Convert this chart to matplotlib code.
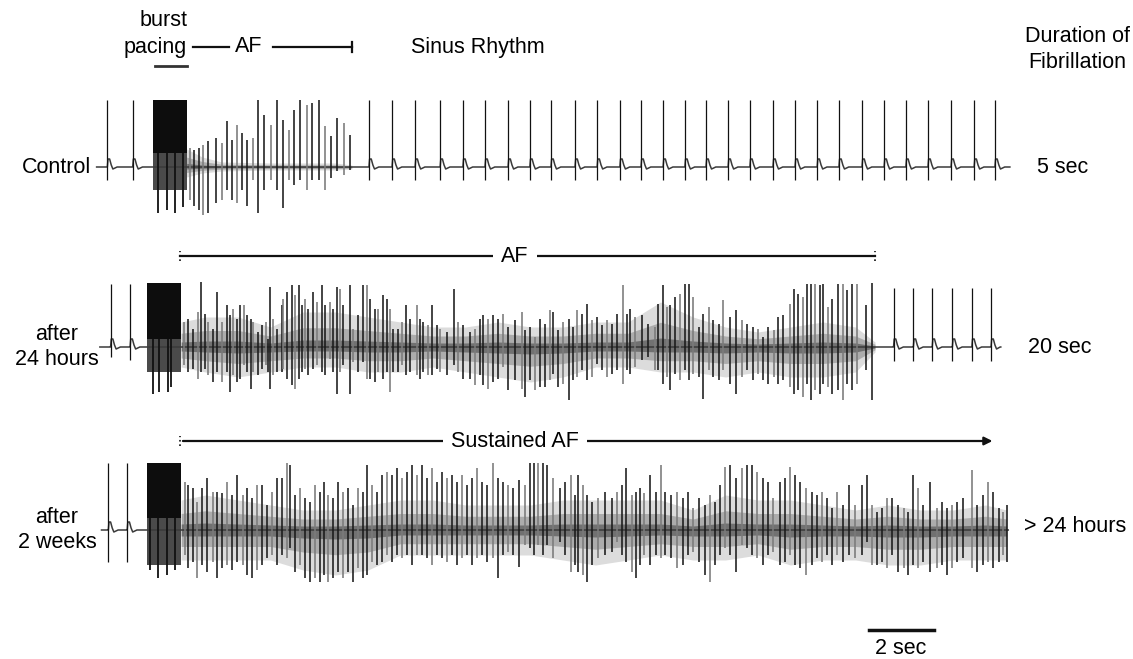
import numpy as np
import matplotlib.pyplot as plt

plt.rcParams['font.family'] = ['Liberation Sans', 'DejaVu Sans']

# time in s, deflections in trace units (up / down from the baseline)

# ---- Control ----
ctrl_span = (-0.35, 27.75)
ctrl_sinus_t = [-0.02, 0.76, 8.03, 8.74, 9.45, 10.22, 10.92, 11.60, 12.31, 12.98,
                13.63, 14.37, 15.05, 15.75, 16.40, 17.08, 17.75, 18.40, 19.08, 19.75,
                20.46, 21.14, 21.82, 22.49, 23.20, 23.88, 24.55, 25.23, 25.94, 26.65, 27.29]
ctrl_sinus_up = 6.7
ctrl_sinus_dn = 1.3
ctrl_burst = (1.40, 2.42, 6.7, 1.4, -2.3)   # start, end, top, black bottom, grey bottom
ctrl_burst_spk_t = [1.55, 1.81, 2.06, 2.30]
ctrl_burst_spk_dn = [4.6, 4.3, 4.6, 4.0]
ctrl_af_t = [2.52, 2.66, 2.80, 2.93, 3.09, 3.32, 3.50, 3.65, 3.82, 3.96,
             4.11, 4.27, 4.47, 4.63, 4.80, 5.01, 5.19, 5.39, 5.58, 5.73,
             5.92, 6.11, 6.29, 6.48, 6.68, 6.85, 7.06, 7.26, 7.45]
ctrl_af_up = [1.9, 1.7, 1.9, 2.2, 2.6, 2.9, 2.4, 4.6, 2.7, 4.2,
              3.4, 2.7, 2.9, 6.7, 5.2, 4.2, 6.7, 4.7, 3.7, 5.7,
              6.7, 6.2, 6.4, 6.7, 4.1, 3.1, 4.9, 4.4, 3.2]
ctrl_af_dn = [3.3, 3.9, 4.3, 4.8, 4.6, 3.6, 3.3, 2.3, 3.3, 3.6,
              2.3, 3.9, 1.3, 4.6, 2.3, 1.3, 2.3, 4.1, 1.3, 1.8,
              1.3, 2.3, 1.3, 1.3, 2.3, 1.1, 0.4, 0.8, 0.3]
ctrl_fz_t = [2.42, 2.9, 3.5, 5.0, 7.0, 7.5]
ctrl_fz_hi = [1.8, 1.0, 0.5, 0.4, 0.4, 0.2]
ctrl_fz_lo = [1.0, 0.6, 0.4, 0.3, 0.3, 0.2]

# ---- after 24 hours ----
h24_span = (-0.25, 27.45)
h24_sinus_t = [0.08, 0.68, 24.17, 24.78, 25.36, 25.98, 26.58, 27.17]
h24_sinus_up = [6.3, 6.3, 5.9, 5.9, 5.9, 5.9, 5.9, 5.9]
h24_sinus_dn = [1.0, 1.3, 1.4, 1.4, 1.4, 1.4, 1.4, 1.4]
h24_burst = (1.20, 2.25, 6.4, 0.8, -2.5)
h24_burst_spk_t = [1.39, 1.58, 1.86, 1.94]
h24_burst_spk_dn = [4.7, 4.5, 4.5, 4.0]
h24_af_t = [2.34, 2.47, 2.63, 2.78, 2.86, 2.98, 3.09, 3.24, 3.36, 3.50,
            3.65, 3.75, 3.84, 3.96, 4.06, 4.18, 4.27, 4.39, 4.47, 4.63,
            4.73, 4.85, 4.93, 4.98, 5.09, 5.19, 5.34, 5.39, 5.50, 5.65,
            5.75, 5.89, 5.96, 6.06, 6.16, 6.32, 6.44, 6.57, 6.68, 6.83,
            6.93, 7.04, 7.14, 7.24, 7.45, 7.55, 7.70, 7.86, 7.96, 8.06,
            8.22, 8.32, 8.47, 8.57, 8.68, 8.78, 8.93, 9.04, 9.17, 9.29,
            9.50, 9.60, 9.70, 9.86, 9.96, 10.11, 10.22, 10.42, 10.65, 10.78,
            10.93, 11.14, 11.29, 11.45, 11.55, 11.70, 11.86, 12.01,
            12.16, 12.32, 12.53, 12.73, 12.83, 12.98, 13.14, 13.29, 13.45, 13.60,
            13.70, 13.86, 14.01, 14.17, 14.32, 14.42, 14.58, 14.73, 14.88, 15.04,
            15.19, 15.35, 15.50, 15.66, 15.84, 15.97, 16.07, 16.22, 16.43, 16.63,
            16.83, 16.93, 17.09, 17.19, 17.29, 17.45, 17.60, 17.76, 17.89, 18.01,
            18.17, 18.32, 18.48, 18.63, 18.81, 18.93, 19.14, 19.32, 19.50, 19.65,
            19.86, 20.01, 20.16, 20.32, 20.48, 20.63, 20.78, 20.97, 21.11, 21.24,
            21.38, 21.50, 21.62, 21.75, 21.90, 22.01, 22.16, 22.29, 22.47, 22.60,
            22.74, 22.90, 23.06, 23.32, 23.52]
h24_af_up = [2.5, 2.8, 1.8, 3.5, 6.5, 3.3, 2.5, 1.8, 5.5, 2.5,
             4.2, 3.2, 3.8, 2.8, 4.2, 4.2, 3.2, 2.8, 2.5, 1.5,
             2.2, 2.5, 0.8, 6.0, 2.8, 1.8, 4.2, 4.8, 5.5, 6.2,
             5.2, 6.2, 4.2, 4.8, 3.8, 5.5, 4.5, 6.2, 4.2, 4.5,
             3.8, 6.0, 5.8, 4.2, 6.2, 1.8, 3.2, 6.2, 6.2, 4.8,
             3.8, 3.8, 5.2, 4.8, 3.8, 1.8, 1.8, 2.5, 4.2, 2.8,
             4.2, 2.8, 2.5, 2.2, 4.2, 2.2, 1.8, 1.5, 5.8, 2.5,
             2.2, 1.5, 1.8, 2.8, 3.2, 2.8, 3.2, 2.8,
             3.3, 2.0, 2.7, 3.5, 1.7, 2.0, 1.0, 2.8, 2.3, 3.7,
             3.5, 1.7, 2.5, 2.8, 2.0, 3.7, 3.3, 4.3, 2.7, 3.0,
             2.2, 2.7, 2.3, 3.3, 6.2, 3.3, 3.8, 3.0, 3.2, 2.3,
             2.0, 4.3, 6.2, 4.0, 4.2, 5.0, 5.3, 6.3, 6.3, 5.0,
             2.0, 3.3, 4.0, 2.7, 2.3, 4.7, 3.0, 3.7, 2.7, 2.3,
             2.0, 1.8, 1.0, 2.0, 1.7, 3.0, 3.2, 4.3, 5.8, 5.3,
             5.0, 6.3, 6.3, 6.3, 6.2, 6.3, 4.0, 4.8, 6.3, 6.3,
             5.7, 6.3, 6.3, 4.2, 6.4]
h24_af_dn = [1.8, 2.5, 2.2, 3.2, 2.5, 2.2, 2.8, 3.5, 2.5, 3.5,
             2.5, 4.5, 2.8, 3.5, 3.2, 1.8, 2.5, 4.2, 2.5, 2.8,
             2.2, 1.8, 2.5, 4.2, 2.8, 2.5, 2.5, 2.2, 3.2, 3.8,
             4.2, 3.2, 2.5, 2.2, 2.8, 2.2, 1.8, 2.5, 2.8, 1.2,
             2.5, 4.7, 2.5, 1.8, 4.7, 1.5, 2.5, 1.5, 3.2, 3.2,
             3.5, 2.5, 3.2, 2.5, 4.5, 2.5, 2.5, 1.8, 2.8, 2.5,
             2.8, 3.2, 2.5, 2.8, 2.8, 2.2, 2.5, 2.8, 1.8, 2.5,
             3.2, 3.2, 3.8, 2.8, 3.8, 4.2, 3.5, 3.2,
             2.0, 4.3, 3.3, 4.2, 5.0, 3.3, 4.3, 4.0, 4.0, 3.3,
             2.7, 4.0, 3.7, 5.3, 3.3, 3.0, 2.3, 3.3, 3.0, 1.7,
             2.3, 3.0, 2.7, 2.3, 3.7, 2.3, 2.7, 2.0, 1.3, 1.0,
             2.3, 2.3, 3.7, 3.0, 4.3, 2.7, 3.3, 2.3, 3.3, 2.7,
             3.0, 5.2, 2.3, 3.0, 3.3, 2.3, 3.7, 4.7, 3.0, 2.3,
             3.3, 2.7, 3.3, 3.7, 3.0, 3.7, 3.3, 4.0, 4.7, 4.3,
             5.0, 3.7, 5.3, 4.3, 4.7, 3.7, 4.0, 4.7, 4.3, 5.3,
             3.7, 4.3, 3.7, 2.3, 5.3]
h24_fz_t = [2.25, 3, 4, 5, 6, 7, 8, 9, 10, 11, 12, 13, 14, 15, 16, 17, 18, 19, 20, 21, 22, 23, 23.6]
h24_fz_hi = [2.5, 3.0, 3.0, 2.0, 3.5, 3.5, 3.0, 2.5, 2.0, 2.0, 2.5, 2.0, 2.0, 2.5, 2.5, 4.5, 3.0, 2.0, 1.5, 2.0, 2.5, 2.0, 0.5]
h24_fz_lo = [2.0, 2.5, 3.0, 2.5, 2.0, 2.0, 2.5, 2.5, 2.0, 2.5, 3.0, 3.5, 3.0, 2.0, 2.0, 2.5, 2.5, 3.0, 2.5, 3.0, 3.0, 2.5, 0.5]

# ---- after 2 weeks ----
w2_span = (-0.2, 27.7)
w2_sinus_t = [0.01, 0.59]
w2_sinus_up = 6.7
w2_sinus_dn = 3.2
w2_burst = (1.19, 2.25, 6.7, 1.2, -3.5)
w2_burst_spk_t = [1.29, 1.55, 1.81, 2.06]
w2_burst_spk_dn = [4.0, 4.8, 4.5, 4.0]
w2_af_t = [2.37, 2.47, 2.63, 2.75, 2.88, 3.06, 3.22, 3.34, 3.50, 3.67,
           3.81, 3.96, 4.14, 4.27, 4.42, 4.57, 4.75, 4.88, 5.04, 5.19,
           5.34, 5.50, 5.60, 5.75, 5.91, 6.06, 6.22, 6.37, 6.52, 6.65,
           6.78, 6.93, 7.09, 7.22, 7.39, 7.55, 7.70, 7.84, 7.96, 8.11,
           8.27, 8.42, 8.57, 8.73, 8.88, 9.04, 9.19, 9.34, 9.50, 9.65,
           9.81, 9.96, 10.11, 10.27, 10.42, 10.57, 10.73, 10.88, 11.04, 11.19,
           11.34, 11.50, 11.65, 11.86, 12.01, 12.16, 12.32, 12.47, 12.66, 12.83,
           12.98, 13.11, 13.24, 13.37, 13.52, 13.70,
           13.91, 14.06, 14.24, 14.37, 14.47, 14.63, 14.75, 14.88, 15.09, 15.29,
           15.50, 15.65, 15.81, 15.94, 16.11, 16.24, 16.37, 16.50, 16.68, 16.86,
           17.00, 17.14, 17.31, 17.50, 17.68, 17.86, 18.01, 18.19, 18.37, 18.52,
           18.68, 18.83, 18.99, 19.14, 19.32, 19.50, 19.65, 19.81, 19.96, 20.16,
           20.32, 20.47, 20.68, 20.83, 20.99, 21.14, 21.29, 21.48, 21.65, 21.81,
           21.96, 22.11, 22.27, 22.42, 22.60, 22.81, 22.98, 23.19, 23.34, 23.50,
           23.65, 23.81, 23.96, 24.12, 24.32, 24.48, 24.63, 24.78, 24.93, 25.09,
           25.29, 25.50, 25.65, 25.80, 25.96, 26.11, 26.32, 26.57, 26.73, 26.91,
           27.09, 27.24, 27.40, 27.53, 27.65]
w2_af_up = [4.8, 4.5, 4.2, 2.8, 4.2, 5.2, 3.8, 3.8, 3.7, 4.8,
            3.5, 5.5, 3.5, 4.2, 3.2, 4.5, 4.5, 2.5, 3.8, 5.2,
            5.2, 6.7, 6.5, 3.5, 4.2, 3.2, 2.8, 4.5, 3.8, 4.8,
            3.5, 3.2, 4.8, 3.8, 4.2, 2.5, 4.2, 3.8, 6.5, 4.5,
            3.8, 5.5, 5.8, 5.5, 6.2, 5.2, 5.8, 6.5, 5.5, 6.5,
            5.2, 6.2, 4.8, 5.8, 5.2, 5.5, 4.8, 5.5, 4.5, 5.2,
            6.2, 4.8, 4.5, 6.7, 5.2, 4.8, 4.5, 4.2, 5.0, 4.5,
            6.7, 6.7, 6.7, 6.7, 6.5, 5.2,
            4.2, 4.8, 5.5, 3.5, 5.5, 4.5, 3.5, 2.8, 3.2, 3.8,
            3.2, 3.8, 4.5, 6.2, 3.5, 3.8, 4.2, 3.7, 5.5, 3.8,
            6.5, 3.8, 3.5, 3.8, 3.2, 3.8, 2.2, 3.2, 2.5, 3.5,
            2.8, 4.5, 6.3, 6.5, 5.2, 6.2, 6.5, 6.5, 5.8, 5.2,
            4.8, 3.2, 4.8, 5.2, 6.3, 5.5, 4.8, 4.2, 3.8, 3.5,
            3.8, 3.2, 2.2, 3.8, 2.5, 4.5, 2.5, 4.5, 5.5, 2.5,
            1.8, 2.2, 3.2, 3.2, 2.5, 2.2, 1.8, 5.5, 4.2, 2.5,
            4.8, 2.2, 2.8, 2.2, 2.5, 2.8, 3.2, 6.0, 2.5, 3.5,
            4.8, 3.8, 2.2, 1.8, 2.5]
w2_af_dn = [2.5, 3.8, 3.2, 4.8, 3.5, 4.2, 3.2, 4.8, 3.8, 3.5,
            4.0, 3.2, 3.5, 4.5, 4.8, 4.0, 3.5, 2.8, 2.5, 3.5,
            2.5, 2.8, 1.8, 4.2, 3.5, 4.8, 5.2, 4.8, 5.2, 4.5,
            5.2, 4.8, 4.2, 4.8, 4.2, 5.2, 3.8, 4.8, 4.5, 3.2,
            3.5, 3.2, 2.5, 3.2, 2.5, 2.8, 2.5, 3.5, 2.5, 2.5,
            2.8, 3.5, 2.5, 2.8, 3.2, 2.5, 3.5, 2.8, 2.5, 3.5,
            2.8, 2.5, 3.2, 2.8, 4.8, 2.5, 2.2, 2.5, 3.7, 1.5,
            1.8, 2.5, 1.5, 2.5, 1.5, 2.8,
            1.2, 2.5, 4.2, 3.5, 4.2, 4.5, 5.2, 3.5, 2.8, 2.5,
            2.2, 1.2, 2.5, 3.2, 4.2, 4.8, 3.5, 2.5, 3.5, 2.5,
            2.8, 2.5, 2.8, 3.8, 3.5, 2.5, 2.2, 3.2, 4.5, 5.2,
            3.5, 2.5, 1.8, 2.5, 4.2, 1.5, 1.8, 2.5, 2.8, 3.5,
            2.5, 2.2, 3.5, 3.2, 2.5, 3.5, 3.8, 4.5, 3.5, 2.8,
            3.2, 2.5, 3.5, 2.5, 3.2, 2.5, 2.8, 2.5, 1.2, 3.5,
            3.5, 3.2, 3.8, 2.5, 4.2, 3.8, 4.5, 3.5, 3.8, 3.2,
            4.2, 3.8, 3.5, 4.5, 3.8, 3.2, 2.8, 3.8, 4.2, 3.5,
            3.2, 3.8, 3.2, 2.5, 3.2]
w2_fz_t = [2.25, 3, 4, 5, 6, 7, 8, 9, 10, 11, 12, 13, 14, 15, 16, 17, 18, 19, 20, 21, 22, 23, 24, 25, 26, 27, 27.65]
w2_fz_hi = [3.0, 3.5, 3.0, 2.5, 2.0, 2.0, 2.5, 3.0, 3.0, 2.5, 2.5, 2.5, 3.0, 3.0, 3.0, 3.0, 2.0, 3.5, 3.0, 3.0, 2.5, 2.0, 2.5, 2.0, 2.0, 2.5, 2.0]
w2_fz_lo = [3.0, 3.0, 3.0, 3.0, 4.0, 4.5, 4.0, 2.5, 2.5, 2.5, 2.5, 2.5, 3.0, 3.5, 3.0, 2.5, 3.0, 3.0, 2.5, 3.5, 3.0, 3.0, 3.5, 3.5, 3.0, 3.0, 3.0]

# shape of the ST/T segment after a sinus beat
beat_dt = [-0.03, 0.0, 0.02, 0.07, 0.12, 0.17, 0.30]
beat_v = [0.0, 0.0, 0.8, 0.8, 0.2, -0.2, 0.0]

row_offset = [0.0, -18.0, -36.3]
fs = 15.5

fig = plt.figure(figsize=(11.33, 6.59), dpi=100)
ax = fig.add_axes([0, 0, 1, 1])
ax.set_xlim(-3.323, 31.538)
ax.set_ylim(-49.2, 16.7)
ax.axis('off')


def draw_trace(off, span, sin_t, sin_up, sin_dn, burst, bsp_t, bsp_dn,
               af_t, af_up, af_dn, fz_t, fz_hi, fz_lo):
    pts = [(span[0], 0.0), (span[1], 0.0)]
    for b in sin_t:
        pts += [(b + d, v) for d, v in zip(beat_dt, beat_v)]
    pts.sort()
    bx, by = np.array(pts).T
    hi = np.array(fz_hi)
    lo = np.array(fz_lo)
    # blurred fibrillation band: light outer envelope, darker core
    ax.fill_between(fz_t, off + hi, off - lo, color='#8c8c8c', alpha=0.3, lw=0)
    ax.fill_between(fz_t, off + 0.55 * hi, off - 0.55 * lo, color='#555555', alpha=0.35, lw=0)
    ax.fill_between(fz_t, off + 0.2 * hi, off - 0.2 * lo, color='#2a2a2a', alpha=0.45, lw=0)
    ax.plot(bx, by + off, color='#3a3a3a', lw=1.1)
    ax.vlines(sin_t, off - np.asarray(sin_dn), off + np.asarray(sin_up),
              color='#111111', lw=0.9)
    cols = ['#7a7a7a' if i % 3 == 0 else '#1a1a1a' for i in range(len(af_t))]
    ax.vlines(af_t, off - np.array(af_dn), off + np.array(af_up), colors=cols, lw=1.15)
    b0, b1, top, black_bot, grey_bot = burst
    ax.fill_between([b0, b1], off + grey_bot, off + black_bot, color='#4a4a4a', lw=0)
    ax.fill_between([b0, b1], off + black_bot, off + top, color='#0d0d0d', lw=0)
    ax.vlines(bsp_t, off - np.array(bsp_dn), off + black_bot, color='#111111', lw=1.3)


draw_trace(row_offset[0], ctrl_span, ctrl_sinus_t, ctrl_sinus_up, ctrl_sinus_dn, ctrl_burst,
           ctrl_burst_spk_t, ctrl_burst_spk_dn, ctrl_af_t, ctrl_af_up, ctrl_af_dn,
           ctrl_fz_t, ctrl_fz_hi, ctrl_fz_lo)
draw_trace(row_offset[1], h24_span, h24_sinus_t, h24_sinus_up, h24_sinus_dn, h24_burst,
           h24_burst_spk_t, h24_burst_spk_dn, h24_af_t, h24_af_up, h24_af_dn,
           h24_fz_t, h24_fz_hi, h24_fz_lo)
draw_trace(row_offset[2], w2_span, w2_sinus_t, w2_sinus_up, w2_sinus_dn, w2_burst,
           w2_burst_spk_t, w2_burst_spk_dn, w2_af_t, w2_af_up, w2_af_dn,
           w2_fz_t, w2_fz_hi, w2_fz_lo)

# row labels and durations
ax.text(-0.52, 0.0, 'Control', ha='right', va='center', fontsize=fs)
ax.text(-1.57, -18.0, 'after\n24 hours', ha='center', va='center', fontsize=fs, linespacing=1.3)
ax.text(-1.57, -36.3, 'after\n2 weeks', ha='center', va='center', fontsize=fs, linespacing=1.3)
ax.text(29.38, 0.0, '5 sec', ha='center', va='center', fontsize=fs)
ax.text(29.29, -18.0, '20 sec', ha='center', va='center', fontsize=fs)
ax.text(29.75, -36.0, '> 24 hours', ha='center', va='center', fontsize=fs)
ax.text(29.82, 11.75, 'Duration of\nFibrillation', ha='center', va='center',
        fontsize=fs, linespacing=1.3)

# top annotations
ax.text(2.46, 14.7, 'burst', ha='right', va='center', fontsize=fs)
ax.text(2.43, 12.2, 'pacing', ha='right', va='center_baseline', fontsize=fs)
ax.plot([1.45, 2.43], [10.1, 10.1], color='#333333', lw=2)
ax.plot([2.62, 3.72], [12.0, 12.0], color='#111111', lw=1.6)
ax.text(4.34, 12.0, 'AF', ha='center', va='center', fontsize=fs)
ax.plot([5.08, 7.51], [12.0, 12.0], color='#111111', lw=1.6)
ax.plot([7.51, 7.51], [11.5, 12.5], color='#111111', lw=1.6)
ax.text(11.38, 12.0, 'Sinus Rhythm', ha='center', va='center', fontsize=fs)

# AF span after 24 hours
ax.plot([2.22, 23.6], [-8.9, -8.9], color='#111111', lw=1.6)
ax.plot([2.22, 2.22], [-9.4, -8.4], color='#111111', lw=1.2, ls=':')
ax.plot([23.6, 23.6], [-9.4, -8.4], color='#111111', lw=1.2, ls=':')
ax.text(12.52, -8.9, 'AF', ha='center', va='center', fontsize=fs,
        bbox=dict(fc='white', ec='none', pad=6))

# sustained AF after 2 weeks
ax.annotate('', xy=(27.3, -27.4), xytext=(2.22, -27.4),
            arrowprops=dict(arrowstyle='-|>', color='#111111', lw=1.6, mutation_scale=12))
ax.plot([2.22, 2.22], [-27.9, -26.9], color='#111111', lw=1.2, ls=':')
ax.text(12.52, -27.4, 'Sustained AF', ha='center', va='center', fontsize=fs,
        bbox=dict(fc='white', ec='none', pad=6))

# time scale bar
ax.plot([23.4, 25.4], [-46.3, -46.3], color='#111111', lw=2.5)
ax.text(24.4, -48.1, '2 sec', ha='center', va='center', fontsize=fs)

fig.savefig('out.png', dpi=100)
